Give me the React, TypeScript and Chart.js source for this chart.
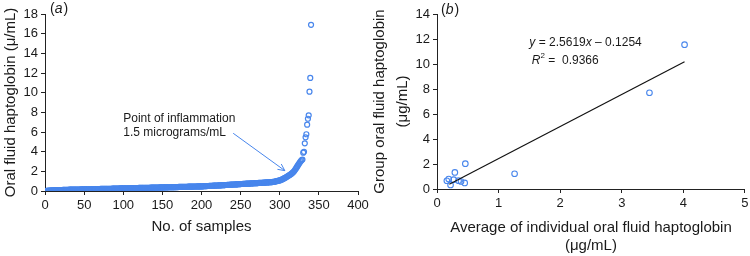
import React, { useEffect, useRef } from "react";
import { Chart, registerables } from "chart.js";

Chart.register(...registerables);

// ---------- Panel (a): sorted oral fluid haptoglobin per sample ----------
const sampleHaptoglobin: number[] = [
  0.0,
  0.01, 0.02, 0.03, 0.04, 0.05, 0.05, 0.06, 0.06, 0.07, 0.07,
  0.07, 0.08, 0.08, 0.08, 0.09, 0.09, 0.09, 0.1, 0.1, 0.1,
  0.1, 0.11, 0.11, 0.11, 0.11, 0.12, 0.12, 0.12, 0.12, 0.13,
  0.13, 0.13, 0.13, 0.13, 0.14, 0.14, 0.14, 0.14, 0.14, 0.15,
  0.15, 0.15, 0.15, 0.15, 0.16, 0.16, 0.16, 0.16, 0.16, 0.17,
  0.17, 0.17, 0.17, 0.17, 0.18, 0.18, 0.18, 0.18, 0.18, 0.19,
  0.19, 0.19, 0.19, 0.19, 0.2, 0.2, 0.2, 0.2, 0.2, 0.21,
  0.21, 0.21, 0.21, 0.21, 0.22, 0.22, 0.22, 0.22, 0.22, 0.23,
  0.23, 0.23, 0.23, 0.23, 0.24, 0.24, 0.24, 0.24, 0.24, 0.25,
  0.25, 0.25, 0.25, 0.25, 0.26, 0.26, 0.26, 0.26, 0.27, 0.27,
  0.27, 0.27, 0.27, 0.28, 0.28, 0.28, 0.28, 0.28, 0.29, 0.29,
  0.29, 0.29, 0.29, 0.3, 0.3, 0.3, 0.3, 0.3, 0.31, 0.31,
  0.31, 0.31, 0.31, 0.32, 0.32, 0.32, 0.32, 0.32, 0.33, 0.33,
  0.33, 0.33, 0.33, 0.34, 0.34, 0.34, 0.34, 0.34, 0.35, 0.35,
  0.35, 0.35, 0.35, 0.35, 0.35, 0.36, 0.36, 0.36, 0.36, 0.36,
  0.36, 0.37, 0.37, 0.37, 0.37, 0.37, 0.38, 0.38, 0.38, 0.38,
  0.38, 0.39, 0.39, 0.39, 0.39, 0.4, 0.4, 0.4, 0.4, 0.41,
  0.41, 0.41, 0.41, 0.42, 0.42, 0.42, 0.42, 0.43, 0.43, 0.43,
  0.43, 0.44, 0.44, 0.44, 0.44, 0.45, 0.45, 0.45, 0.45, 0.46,
  0.46, 0.46, 0.46, 0.47, 0.47, 0.47, 0.47, 0.47, 0.48, 0.48,
  0.48, 0.49, 0.49, 0.5, 0.5, 0.5, 0.51, 0.51, 0.52, 0.52,
  0.52, 0.53, 0.53, 0.54, 0.54, 0.55, 0.55, 0.55, 0.56, 0.56,
  0.57, 0.57, 0.58, 0.58, 0.59, 0.59, 0.59, 0.6, 0.6, 0.61,
  0.61, 0.62, 0.62, 0.63, 0.63, 0.64, 0.64, 0.65, 0.65, 0.66,
  0.66, 0.67, 0.67, 0.68, 0.68, 0.69, 0.69, 0.7, 0.7, 0.71,
  0.71, 0.72, 0.72, 0.73, 0.73, 0.74, 0.74, 0.75, 0.75, 0.76,
  0.76, 0.77, 0.77, 0.78, 0.78, 0.79, 0.79, 0.8, 0.8, 0.81,
  0.81, 0.82, 0.82, 0.83, 0.83, 0.84, 0.84, 0.85, 0.85, 0.86,
  0.86, 0.87, 0.87, 0.88, 0.88, 0.89, 0.89, 0.9, 0.91, 0.92,
  0.93, 0.94, 0.96, 0.98, 1.0, 1.02, 1.04, 1.06, 1.08, 1.11,
  1.14, 1.18, 1.22, 1.26, 1.3, 1.35, 1.4, 1.45, 1.5, 1.55,
  1.6, 1.65, 1.7, 1.76, 1.82, 1.9, 1.98, 2.08, 2.2, 2.32,
  2.45, 2.58, 2.7, 2.82, 2.95, 3.05, 3.15, 3.2, 3.9, 3.98,
  4.85, 5.46, 5.77, 6.75, 7.35, 7.7, 10.1, 11.5, 16.9,
];

const xTicksA = [0, 50, 100, 150, 200, 250, 300, 350, 400];
const yTicksA = [0, 2, 4, 6, 8, 10, 12, 14, 16, 18];
const annotationLines = ["Point of inflammation", "1.5 micrograms/mL"];
const annotationTextAt = [100, 7.4]; // data coords of first text line
const annotationLineGap = 1.42; // in y units
const arrowFrom = [240.5, 5.87];
const arrowTo = [306.5, 2.07];

// ---------- Panel (b): group vs individual average ----------
const individualAvg = [0.16, 0.19, 0.22, 0.27, 0.29, 0.35, 0.39, 0.45, 0.46, 1.26, 3.45, 4.02];
const groupHaptoglobin = [0.66, 0.8, 0.33, 0.75, 1.33, 0.67, 0.6, 0.49, 2.03, 1.22, 7.7, 11.55];
const trendSlope = 2.5619;
const trendIntercept = -0.1254;
const trendXRange = [0.2, 4.02];
const rSquared = 0.9366;
const xTicksB = [0, 1, 2, 3, 4, 5];
const yTicksB = [0, 2, 4, 6, 8, 10, 12, 14];
const equationAt = [1.5, 11.73];
const r2At = [1.54, 10.26];

const FONT = '"Liberation Sans", Arial, Helvetica, sans-serif';
const BLUE = "rgb(72,134,236)";
const TEXT = "#1a1a1a";
const AXIS = "#222";

const fixBox = (size: number, vertical: boolean) => (scale: any) => {
  if (vertical) scale.width = size;
  else scale.height = size;
  scale.paddingTop = 0;
  scale.paddingBottom = 0;
  scale.paddingLeft = 0;
  scale.paddingRight = 0;
};

const axisCommon = (min: number, max: number, ticks: number[]) => ({
  type: "linear" as const,
  min,
  max,
  afterBuildTicks: (scale: any) => {
    scale.ticks = ticks.map((v) => ({ value: v }));
  },
  grid: {
    display: true,
    drawOnChartArea: false,
    drawTicks: true,
    tickLength: 4,
    tickWidth: 1,
    color: AXIS,
  },
  border: { display: true, color: AXIS, width: 1 },
  ticks: {
    color: TEXT,
    font: { family: FONT, size: 13 },
    padding: 3,
    autoSkip: false,
    maxRotation: 0,
    minRotation: 0,
  },
});

function drawPanelLabel(ctx: CanvasRenderingContext2D, letter: string, x: number, y: number) {
  ctx.save();
  ctx.fillStyle = TEXT;
  ctx.textBaseline = "middle";
  ctx.font = `14px ${FONT}`;
  ctx.fillText("(", x, y);
  let cx = x + ctx.measureText("(").width;
  ctx.font = `italic 14px ${FONT}`;
  ctx.fillText(letter, cx, y);
  cx += ctx.measureText(letter).width + 1;
  ctx.font = `14px ${FONT}`;
  ctx.fillText(")", cx, y);
  ctx.restore();
}

function drawRuns(ctx: CanvasRenderingContext2D, runs: { t: string; italic?: boolean; sup?: boolean }[], x: number, y: number) {
  let cx = x;
  for (const r of runs) {
    const size = r.sup ? 8 : 12;
    ctx.font = `${r.italic ? "italic " : ""}${size}px ${FONT}`;
    ctx.fillText(r.t, cx, r.sup ? y - 5 : y);
    cx += ctx.measureText(r.t).width;
  }
}

const annotationPluginA = {
  id: "annotA",
  afterDraw(chart: any) {
    const { ctx, scales, chartArea } = chart;
    const x = scales.x;
    const y = scales.y;
    ctx.save();
    ctx.fillStyle = TEXT;
    ctx.textBaseline = "middle";
    ctx.font = `12px ${FONT}`;
    annotationLines.forEach((line, i) => {
      ctx.fillText(
        line,
        x.getPixelForValue(annotationTextAt[0]),
        y.getPixelForValue(annotationTextAt[1] - i * annotationLineGap)
      );
    });
    const x0 = x.getPixelForValue(arrowFrom[0]);
    const y0 = y.getPixelForValue(arrowFrom[1]);
    const x1 = x.getPixelForValue(arrowTo[0]);
    const y1 = y.getPixelForValue(arrowTo[1]);
    ctx.strokeStyle = BLUE;
    ctx.lineWidth = 1;
    ctx.beginPath();
    ctx.moveTo(x0, y0);
    ctx.lineTo(x1, y1);
    const ang = Math.atan2(y1 - y0, x1 - x0);
    const hl = 7.5;
    const spread = 0.45;
    ctx.moveTo(x1 - hl * Math.cos(ang - spread), y1 - hl * Math.sin(ang - spread));
    ctx.lineTo(x1, y1);
    ctx.lineTo(x1 - hl * Math.cos(ang + spread), y1 - hl * Math.sin(ang + spread));
    ctx.stroke();
    ctx.restore();
    drawPanelLabel(ctx, "a", chartArea.left + 5, 9);
  },
};

const annotationPluginB = {
  id: "annotB",
  afterDraw(chart: any) {
    const { ctx, scales, chartArea } = chart;
    const x = scales.x;
    const y = scales.y;
    ctx.save();
    ctx.fillStyle = TEXT;
    ctx.textBaseline = "middle";
    const sign = trendIntercept < 0 ? "\u2013" : "+";
    drawRuns(
      ctx,
      [
        { t: "y", italic: true },
        { t: ` = ${trendSlope.toFixed(4)}` },
        { t: "x", italic: true },
        { t: ` ${sign} ${Math.abs(trendIntercept).toFixed(4)}` },
      ],
      x.getPixelForValue(equationAt[0]),
      y.getPixelForValue(equationAt[1])
    );
    drawRuns(
      ctx,
      [
        { t: "R", italic: true },
        { t: "2", sup: true },
        { t: ` =  ${rSquared.toFixed(4)}` },
      ],
      x.getPixelForValue(r2At[0]),
      y.getPixelForValue(r2At[1])
    );
    ctx.restore();
    drawPanelLabel(ctx, "b", chartArea.left + 4, 10);
  },
};

export default function App() {
  const refA = useRef<HTMLCanvasElement>(null);
  const refB = useRef<HTMLCanvasElement>(null);

  useEffect(() => {
    const chartA = new Chart(refA.current as HTMLCanvasElement, {
      type: "scatter",
      data: {
        datasets: [
          {
            data: sampleHaptoglobin.map((v, i) => ({ x: i + 1, y: v })),
            borderColor: BLUE,
            backgroundColor: "rgba(0,0,0,0)",
            borderWidth: 1.2,
            pointRadius: 2.5,
          },
        ],
      },
      options: {
        animation: false,
        responsive: false,
        devicePixelRatio: 1,
        layout: { padding: { left: 0, top: 14, right: 14, bottom: 0 } },
        plugins: { legend: { display: false }, tooltip: { enabled: false } },
        scales: {
          x: {
            ...axisCommon(0, 400, xTicksA),
            position: "bottom",
            afterFit: fixBox(65, false),
            title: {
              display: true,
              text: "No. of samples",
              color: TEXT,
              font: { family: FONT, size: 15 },
              padding: { top: 0, bottom: 20.5 },
            },
          },
          y: {
            ...axisCommon(0, 18, yTicksA),
            position: "left",
            afterFit: fixBox(45, true),
            title: {
              display: true,
              text: "Oral fluid haptoglobin (\u03bc/mL)",
              color: TEXT,
              font: { family: FONT, size: 15 },
              padding: { top: 2, bottom: 0 },
            },
          },
        },
      },
      plugins: [annotationPluginA],
    } as any);

    const chartB = new Chart(refB.current as HTMLCanvasElement, {
      type: "scatter",
      data: {
        datasets: [
          {
            type: "line",
            data: trendXRange.map((xv) => ({ x: xv, y: trendSlope * xv + trendIntercept })),
            borderColor: "#111",
            borderWidth: 1.2,
            pointRadius: 0,
            fill: false,
          },
          {
            data: individualAvg.map((xv, i) => ({ x: xv, y: groupHaptoglobin[i] })),
            borderColor: BLUE,
            backgroundColor: "rgba(0,0,0,0)",
            borderWidth: 1.1,
            pointRadius: 2.8,
          },
        ],
      },
      options: {
        animation: false,
        responsive: false,
        devicePixelRatio: 1,
        layout: { padding: { left: 0, top: 14, right: 5, bottom: 0 } },
        plugins: { legend: { display: false }, tooltip: { enabled: false } },
        scales: {
          x: {
            ...axisCommon(0, 5, xTicksB),
            position: "bottom",
            afterFit: fixBox(67, false),
            title: {
              display: true,
              text: ["Average of individual oral fluid haptoglobin", "(\u03bcg/mL)"],
              color: TEXT,
              font: { family: FONT, size: 15, lineHeight: 1.2 },
              padding: { top: 0, bottom: 1 },
            },
          },
          y: {
            ...axisCommon(0, 14, yTicksB),
            position: "left",
            afterFit: fixBox(77, true),
            title: {
              display: true,
              text: ["Group oral fluid haptoglobin", "(\u03bcg/mL)"],
              color: TEXT,
              font: { family: FONT, size: 15, lineHeight: 1.53 },
              padding: { top: 8.5, bottom: 0 },
            },
          },
        },
      },
      plugins: [annotationPluginB],
    } as any);

    return () => {
      chartA.destroy();
      chartB.destroy();
    };
  }, []);

  return (
    <div
      style={{
        position: "fixed",
        left: 0,
        top: 0,
        width: 750,
        height: 256,
        background: "#fff",
        overflow: "hidden",
      }}
    >
      <canvas
        ref={refA}
        width={372}
        height={256}
        style={{ position: "absolute", left: 0, top: 0, width: 372, height: 256 }}
      />
      <canvas
        ref={refB}
        width={390}
        height={256}
        style={{ position: "absolute", left: 360, top: 0, width: 390, height: 256 }}
      />
    </div>
  );
}
